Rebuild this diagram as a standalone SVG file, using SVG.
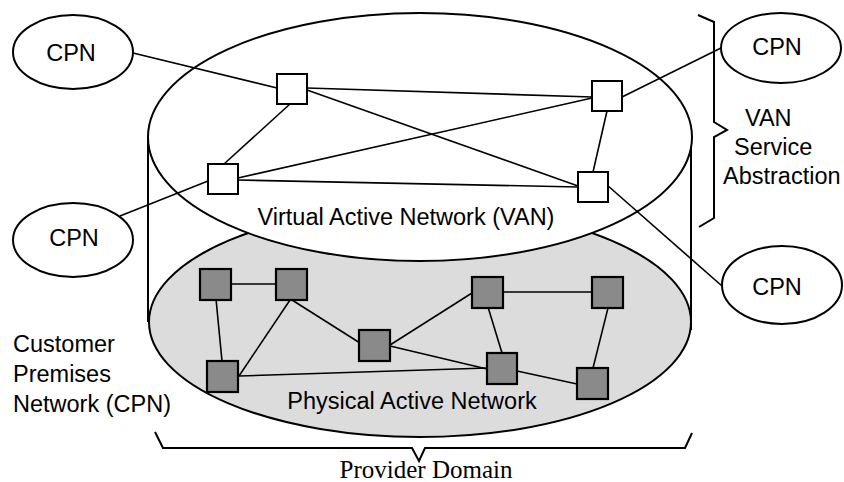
<svg xmlns="http://www.w3.org/2000/svg" width="844" height="482" viewBox="0 0 844 482">
<style>
  .cpn { fill: #ffffff; stroke: #000; stroke-width: 2; }
  .lbl { font-family: "Liberation Sans", Arial, sans-serif; font-size: 23.5px; fill: #000; }
  .ser { font-family: "Liberation Serif", "Times New Roman", serif; font-size: 25px; fill: #000; }
  .vnode { fill: #ffffff; stroke: #000; stroke-width: 2; }
  .pnode { fill: #8a8a8a; stroke: #000; stroke-width: 2.2; }
  .edge { stroke: #000; stroke-width: 1.6; fill: none; }
  .outline { stroke: #000; stroke-width: 2; }
  .brace { stroke: #000; stroke-width: 2; fill: none; stroke-linejoin: miter; }
</style>
<rect width="844" height="482" fill="#ffffff"/>

<g id="physical-active-network">
  <ellipse cx="420" cy="322" rx="271" ry="115" fill="#dcdcdc" class="outline"/>
  <text class="lbl" x="412" y="409" text-anchor="middle">Physical Active Network</text>
</g>

<g id="cylinder-sides">
  <line x1="148" y1="137" x2="148" y2="322" class="outline"/>
  <line x1="691" y1="137" x2="691" y2="330" class="outline"/>
</g>

<g id="virtual-active-network">
  <ellipse cx="420" cy="137" rx="272" ry="124" fill="#ffffff" class="outline"/>
  <text class="lbl" x="406" y="225" text-anchor="middle">Virtual Active Network (VAN)</text>
</g>

<g id="connectors">
  <!-- VAN level -->
  <line class="edge" x1="133" y1="53" x2="277" y2="88"/>
  <line class="edge" x1="290" y1="104" x2="224" y2="164"/>
  <line class="edge" x1="307" y1="88" x2="592" y2="97"/>
  <line class="edge" x1="307" y1="90" x2="578" y2="186"/>
  <line class="edge" x1="238" y1="178" x2="592" y2="98"/>
  <line class="edge" x1="238" y1="180" x2="578" y2="187"/>
  <line class="edge" x1="208" y1="181" x2="120" y2="216"/>
  <line class="edge" x1="607" y1="111" x2="593" y2="172"/>
  <line class="edge" x1="622" y1="97" x2="721" y2="48"/>
  <line class="edge" x1="607" y1="185" x2="722" y2="286"/>
  <!-- Physical level -->
  <line class="edge" x1="231" y1="284" x2="276" y2="284"/>
  <line class="edge" x1="216" y1="299" x2="222" y2="361"/>
  <line class="edge" x1="290" y1="300" x2="239" y2="376"/>
  <line class="edge" x1="292" y1="300" x2="360" y2="343"/>
  <line class="edge" x1="390" y1="345" x2="472" y2="293"/>
  <line class="edge" x1="390" y1="346" x2="487" y2="369"/>
  <line class="edge" x1="488" y1="307" x2="502" y2="353"/>
  <line class="edge" x1="503" y1="292" x2="592" y2="292"/>
  <line class="edge" x1="608" y1="308" x2="593" y2="368"/>
  <line class="edge" x1="517" y1="371" x2="577" y2="384"/>
  <line class="edge" x1="239" y1="376" x2="487" y2="368"/>
</g>

<g id="cpn-top-left">
  <ellipse class="cpn" cx="73" cy="52" rx="60" ry="37"/>
  <text class="lbl" x="71" y="61" text-anchor="middle">CPN</text>
</g>
<g id="cpn-top-right">
  <ellipse class="cpn" cx="781" cy="48" rx="60" ry="35"/>
  <text class="lbl" x="777" y="55" text-anchor="middle">CPN</text>
</g>
<g id="cpn-left">
  <ellipse class="cpn" cx="73" cy="240" rx="60" ry="37"/>
  <text class="lbl" x="74" y="246" text-anchor="middle">CPN</text>
</g>
<g id="cpn-right">
  <ellipse class="cpn" cx="782" cy="285" rx="60" ry="39"/>
  <text class="lbl" x="777" y="295" text-anchor="middle">CPN</text>
</g>

<g id="van-node-1"><rect class="vnode" x="277" y="74" width="30" height="30"/></g>
<g id="van-node-2"><rect class="vnode" x="208" y="164" width="30" height="30"/></g>
<g id="van-node-3"><rect class="vnode" x="592" y="81" width="30" height="30"/></g>
<g id="van-node-4"><rect class="vnode" x="578" y="172" width="30" height="30"/></g>

<g id="pan-node-1"><rect class="pnode" x="200" y="269" width="31" height="31"/></g>
<g id="pan-node-2"><rect class="pnode" x="276" y="269" width="31" height="31"/></g>
<g id="pan-node-3"><rect class="pnode" x="359" y="330" width="31" height="31"/></g>
<g id="pan-node-4"><rect class="pnode" x="472" y="277" width="31" height="31"/></g>
<g id="pan-node-5"><rect class="pnode" x="487" y="353" width="30" height="31"/></g>
<g id="pan-node-6"><rect class="pnode" x="592" y="277" width="31" height="31"/></g>
<g id="pan-node-7"><rect class="pnode" x="577" y="368" width="31" height="31"/></g>
<g id="pan-node-8"><rect class="pnode" x="207" y="361" width="31" height="31"/></g>

<g id="van-service-abstraction">
  <path class="brace" d="M698,15 L714,22 L714,122 L727,130 L714,137 L714,218 L699,227"/>
  <text class="lbl" x="745" y="126">VAN</text>
  <text class="lbl" x="734" y="155">Service</text>
  <text class="lbl" x="723" y="184">Abstraction</text>
</g>

<g id="customer-premises-label">
  <text class="lbl" x="13" y="352">Customer</text>
  <text class="lbl" x="13" y="382">Premises</text>
  <text class="lbl" x="13" y="412">Network (CPN)</text>
</g>

<g id="provider-domain">
  <path class="brace" d="M155,432 L163,448 L412,448 L419,461 L425,448 L685,448 L692,433"/>
  <text class="ser" x="426" y="478" text-anchor="middle">Provider Domain</text>
</g>
</svg>
